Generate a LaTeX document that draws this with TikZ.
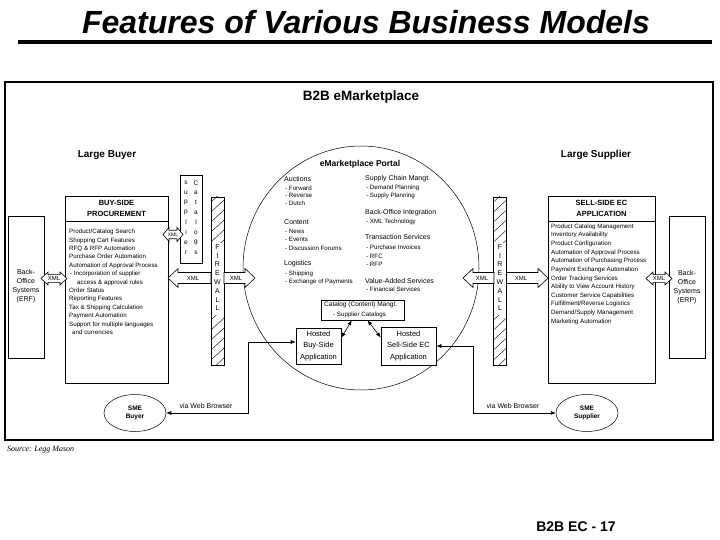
\documentclass[tikz,border=0pt]{standalone}
\usepackage{fontspec}
\setmainfont{Liberation Sans}
\newfontfamily\sourcefont{Liberation Serif}
\usepackage{tikz}
\usetikzlibrary{arrows.meta,positioning,shapes.geometric}

% hollow XML arrow: tip x, neck x, tail x, centre y
\newcommand{\xmlarrow}[4]{\draw[xmlshape] (#1,#4) -- (#2,#4-9.5) -- (#2,#4-5.5) -- (#3,#4-5.5) -- (#3,#4+5.5) -- (#2,#4+5.5) -- (#2,#4+9.5) -- cycle;}
% double XML arrow: left tip, left neck, right neck, right tip, centre y, half height
\newcommand{\xmlboth}[6]{\draw[xmlshape] (#1,#5) -- (#2,#5-#6) -- (#2,#5-0.6*#6) -- (#3,#5-0.6*#6) -- (#3,#5-#6) -- (#4,#5) -- (#3,#5+#6) -- (#3,#5+0.6*#6) -- (#2,#5+0.6*#6) -- (#2,#5+#6) -- cycle;}
% firewall hatching: left x, top y, bottom y
\newcommand{\fwhatch}[3]{\begin{scope}\clip (#1,#2) rectangle (#1+13,#3);
  \foreach \k in {0,...,7} \draw[line width=0.4pt] (#1,{#2+5+10*\k}) -- ++(13,-12);\end{scope}}

\begin{document}
\begin{tikzpicture}[x=1pt,y=-1pt,>={Latex[length=5pt,width=4pt]},
  frameline/.style={draw,line width=1.3pt},
  box/.style={draw,line width=0.6pt,fill=white,inner sep=0pt},
  xmlshape/.style={draw,line width=0.6pt,fill=white},
  conn/.style={draw,line width=0.6pt},
  headtxt/.style={font=\bfseries\fontsize{10}{12}\selectfont},
  boxhead/.style={font=\bfseries\fontsize{7.5}{10.5}\selectfont,align=center},
  listtxt/.style={font=\fontsize{6.2}{8.4}\selectfont,inner sep=0pt,align=left,anchor=north west},
  botxt/.style={font=\fontsize{7}{9}\selectfont,align=center,inner sep=0pt},
  xmltxt/.style={font=\fontsize{6}{7}\selectfont,inner sep=0pt},
  fwtxt/.style={font=\fontsize{7}{8}\selectfont,inner sep=0pt},
  vtxt/.style={font=\fontsize{7}{8}\selectfont,inner sep=0pt},
  porthead/.style={font=\fontsize{7}{8}\selectfont,inner sep=0pt,anchor=west},
  portitem/.style={font=\fontsize{6.2}{7}\selectfont,inner sep=0pt,anchor=west},
  hostedtxt/.style={font=\fontsize{7.5}{11.3}\selectfont,align=center},
  smenode/.style={draw,ellipse,line width=0.5pt,minimum width=62,minimum height=37,inner sep=0pt,align=center,font=\bfseries\fontsize{6.5}{8}\selectfont}]
\fill[white] (0,0) rectangle (720,540);
\useasboundingbox (0,0) rectangle (720,540);

% title and rule
\node[font=\bfseries\itshape\fontsize{32}{36}\selectfont,anchor=base,inner sep=0pt] (title) at (366,34) {Features of Various Business Models};
\draw[line width=4pt] (18,42) -- (712,42);

% main frame
\draw[frameline] (5,82) rectangle (713,440);
\node[font=\bfseries\fontsize{13.5}{15}\selectfont] (market) at (361,97) {B2B eMarketplace};
\node[headtxt] (buyer) at (107,155) {Large Buyer};
\node[headtxt] (supplier) at (596,155) {Large Supplier};

% buyer side
\node[box,minimum width=36,minimum height=142] (bol) at (26,287) {};
\node[box,minimum width=103,minimum height=187] (buyside) at (116.5,289.5) {};
\node[box,boxhead,minimum width=103,minimum height=25] (buyhead) at (116.5,208.5) {BUY-SIDE\\PROCUREMENT};
\node[box,minimum width=22,minimum height=88] (supbox) at (191,219) {};
\node[box,minimum width=13,minimum height=168] (fwl) at (217.5,281) {};
\fwhatch{211}{197}{242}
\fwhatch{211}{315}{365}

% supplier side
\node[box,minimum width=36,minimum height=142] (bor) at (687,287) {};
\node[box,minimum width=107,minimum height=187] (sellside) at (601.5,289.5) {};
\node[box,boxhead,minimum width=107,minimum height=25] (sellhead) at (601.5,208.5) {SELL-SIDE EC\\APPLICATION};
\node[box,minimum width=13,minimum height=168] (fwr) at (500,281) {};
\fwhatch{493.5}{197}{242}
\fwhatch{493.5}{315}{365}

% portal
\node[draw,ellipse,line width=0.5pt,minimum width=236,minimum height=244,inner sep=0pt] (portal) at (361,268) {};
\node[font=\bfseries\fontsize{8.5}{10}\selectfont] (porttitle) at (360,164) {eMarketplace Portal};
\node[box,minimum width=83,minimum height=20] (catalog) at (362.5,310) {};
\node[box,hostedtxt,minimum width=45,minimum height=36] (hbuy) at (318.5,346) {Hosted\\Buy-Side\\Application};
\node[box,hostedtxt,minimum width=55,minimum height=38] (hsell) at (408.5,346) {Hosted\\Sell-Side EC\\Application};

% XML arrows
\xmlboth{41}{48}{60}{67}{278.5}{6.5}
\xmlboth{163}{169}{177}{183}{234.5}{7}
\xmlarrow{168}{178}{211}{278}
\xmlarrow{255}{245}{224}{278}
\xmlarrow{463}{473}{494}{278}
\xmlarrow{548}{538}{506.5}{278}
\xmlboth{646}{653}{665}{672}{278.5}{6.5}
\node[xmltxt] (xbol) at (54,278.5) {XML};
\node[xmltxt,font=\fontsize{5}{6}\selectfont] (xsup) at (173,234.5) {XML};
\node[xmltxt] (xfl1) at (193,278) {XML};
\node[xmltxt] (xfl2) at (236,278) {XML};
\node[xmltxt] (xfr1) at (482,278) {XML};
\node[xmltxt] (xfr2) at (521,278) {XML};
\node[xmltxt] (xbor) at (659,278.5) {XML};

% connectors
\draw[conn,<->] (hbuy.20) -- (catalog.224);
\draw[conn,<->] (catalog.296) -- (hsell.163);
\node[smenode] (smeb) at (135,413) {SME\\Buyer};
\node[smenode] (smes) at (587,413) {SME\\Supplier};
\coordinate (lturn) at (248,342);
\coordinate (rturn) at (473,346);
\draw[conn,<->] (smeb.east) -- (lturn |- smeb.east) -- (lturn) -- (hbuy.west |- lturn);
\draw[conn,<->] (hsell.east |- rturn) -- (rturn) -- (rturn |- smes.west) -- (smes.west);
\node[vtxt] (vial) at (206,406) {via Web Browser};
\node[vtxt] (viar) at (513,406) {via Web Browser};

% texts
\node[botxt] (bolt) at (26,286) {Back-\\Office\\Systems\\(ERF)};
\node[botxt] (bort) at (687,287) {Back-\\Office\\Systems\\(ERP)};
\node[listtxt] (buylist) at (69,229) {Product/Catalog Search\\Shopping Cart Features\\RFQ \& RFP Automation\\Purchase Order Automation\\Automation of Approval Process\\\hspace*{1pt}- Incorporation of supplier\\\hspace*{8pt}access \& approval rules\\Order Status\\Reporting Features\\Tax \& Shipping Calculation\\Payment Automation\\Support for multiple languages\\\hspace*{3pt}and currencies};
\node[listtxt,font=\fontsize{6.2}{8.64}\selectfont] (selllist) at (551,223.5) {Product Catalog Management\\Inventory Availability\\Product Configuration\\Automation of Approval Process\\Automation of Purchasing Process\\Payment Exchange Automation\\Order Tracking Services\\Ability to View Account History\\Customer Service Capabilities\\Fulfillment/Reverse Logistics\\Demand/Supply Management\\Marketing Automation};
\foreach \c [count=\i] in {s,u,p,p,l,i,e,r} \node[fwtxt,font=\fontsize{6.5}{7}\selectfont] (sl\i) at (186,{183+9.9*(\i-1)}) {\c};
\foreach \c [count=\i] in {C,a,t,a,l,o,g,s} \node[fwtxt,font=\fontsize{6.5}{7}\selectfont] (cl\i) at (196,{183+9.9*(\i-1)}) {\c};
\foreach \c [count=\i] in {F,I,R,E,W,A,L,L} {
  \node[fwtxt] (fwla\i) at (217.5,{238+8.8*\i}) {\c};
  \node[fwtxt] (fwra\i) at (500,{238+8.8*\i}) {\c};
}
\foreach \yy/\t [count=\i] in {179/Auctions, 222/Content, 264/Logistics}
  \node[porthead] (plh\i) at (284,\yy) {\t};
\foreach \yy/\t [count=\i] in {188/- Forward, 195.5/- Reverse, 203/- Dutch, 231/- News, 239/- Events, 248/- Discussion Forums, 274/- Shipping, 282/- Exchange of Payments}
  \node[portitem] (pli\i) at (285,\yy) {\t};
\foreach \yy/\t [count=\i] in {179/Supply Chain Mangt., 213/Back-Office Integration, 237/Transaction Services, 281/Value-Added Services}
  \node[porthead] (prh\i) at (365,\yy) {\t};
\foreach \yy/\t [count=\i] in {188/- Demand Planning, 196/- Supply Planning, 222/- XML Technology, 247/- Purchase Invoices, 256/- RFC, 264/- RFP, 289/- Financial Services}
  \node[portitem] (pri\i) at (366,\yy) {\t};
\node[portitem,font=\fontsize{6.5}{7}\selectfont] (cattitle) at (324,305) {Catalog (Content) Mangt.};
\node[portitem] (catitem) at (333,315) {- Supplier Catalogs};

% footer
\node[font=\sourcefont\itshape\fontsize{8}{9}\selectfont,anchor=west,inner sep=0pt] (src) at (7,450) {Source: Legg Mason};
\node[font=\bfseries\fontsize{14}{16}\selectfont] (pageno) at (576,527) {B2B EC - 17};
\end{tikzpicture}
\end{document}
